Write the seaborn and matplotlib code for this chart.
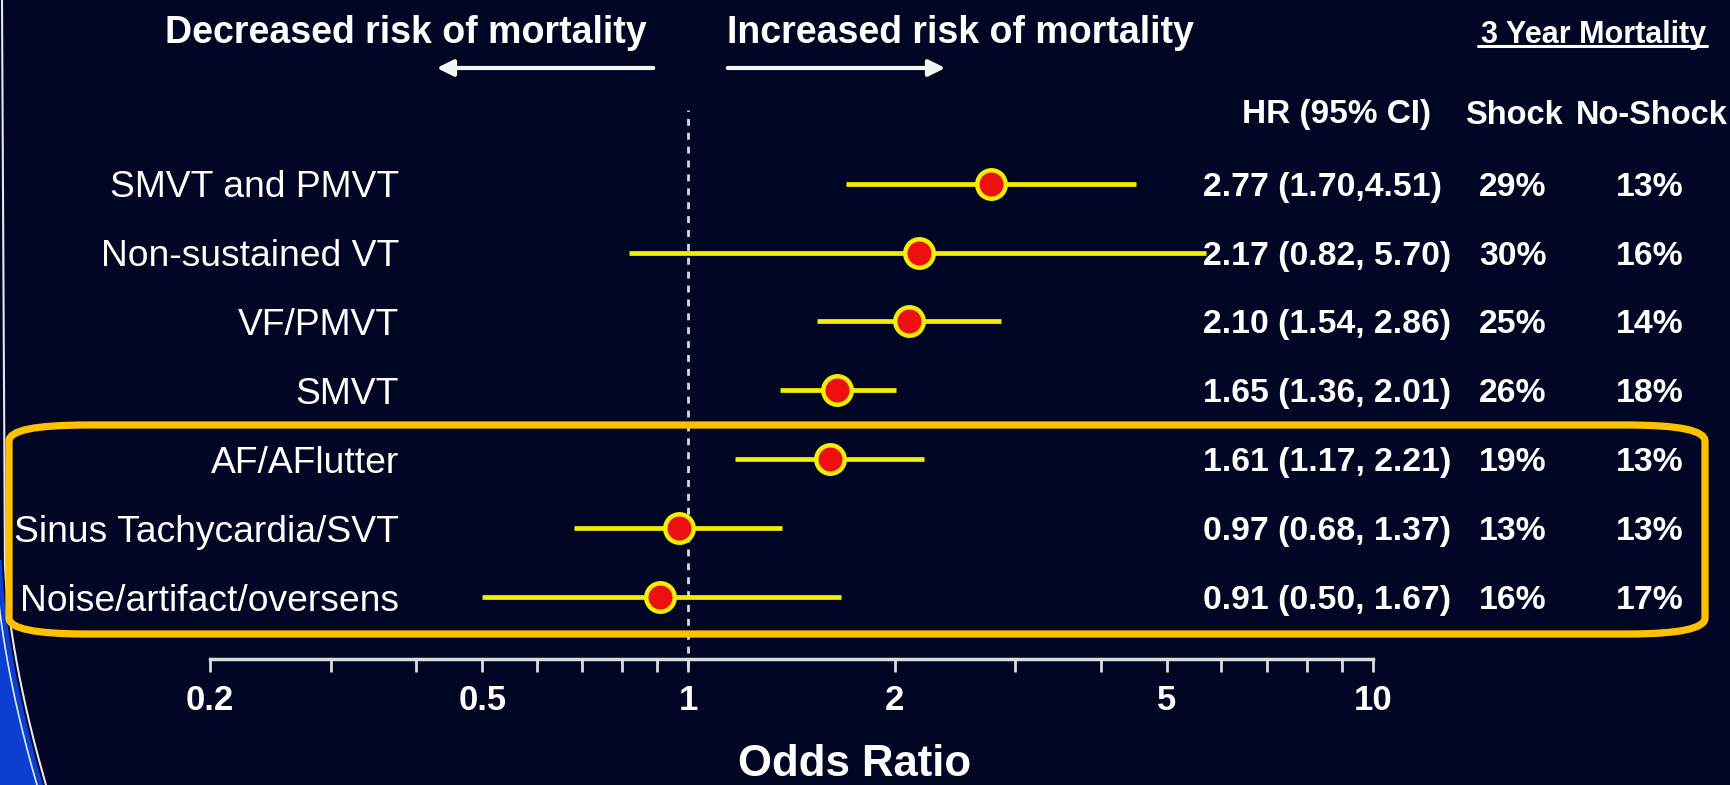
import numpy as np
import pandas as pd
import matplotlib
matplotlib.use("Agg")
import matplotlib.pyplot as plt
import matplotlib.transforms as mtransforms
from matplotlib.patches import FancyBboxPatch, Polygon, FancyArrowPatch
from matplotlib.lines import Line2D
from matplotlib.ticker import FixedLocator, NullFormatter
import seaborn as sns

# ---- data -------------------------------------------------------------
arrhythmias = ["SMVT and PMVT", "Non-sustained VT", "VF/PMVT", "SMVT",
               "AF/AFlutter", "Sinus Tachycardia/SVT", "Noise/artifact/oversens"]
hazard_ratio = [2.77, 2.17, 2.10, 1.65, 1.61, 0.97, 0.91]
ci_low = [1.70, 0.82, 1.54, 1.36, 1.17, 0.68, 0.50]
ci_high = [4.51, 5.70, 2.86, 2.01, 2.21, 1.37, 1.67]
hr_text = ["2.77 (1.70,4.51)", "2.17 (0.82, 5.70)", "2.10 (1.54, 2.86)",
           "1.65 (1.36, 2.01)", "1.61 (1.17, 2.21)", "0.97 (0.68, 1.37)",
           "0.91 (0.50, 1.67)"]
shock_mortality = ["29%", "30%", "25%", "26%", "19%", "13%", "16%"]
noshock_mortality = ["13%", "16%", "14%", "18%", "13%", "13%", "17%"]
major_ticks = [0.2, 0.5, 1, 2, 5, 10]
major_tick_labels = ["0.2", "0.5", "1", "2", "5", "10"]
minor_ticks = [0.3, 0.4, 0.6, 0.7, 0.8, 0.9, 3, 4, 6, 7, 8, 9]

df = pd.DataFrame({"label": arrhythmias, "hr": hazard_ratio,
                   "lo": ci_low, "hi": ci_high,
                   "row": np.arange(len(arrhythmias))})

# ---- style ------------------------------------------------------------
BG = "#000623"
WHITE = "#ffffff"
YELLOW = "#f2f000"
RED = "#ee1010"
GOLD = "#ffc000"

sns.set_theme(style="white")
plt.rcParams["font.family"] = ["Liberation Sans", "DejaVu Sans"]
NARROW = ["Liberation Sans Narrow", "Liberation Sans", "DejaVu Sans"]

W, H = 1730, 785
fig = plt.figure(figsize=(W / 100, H / 100), dpi=100, facecolor=BG)


def fx(px):
    return px / W


def fy(py):
    return 1 - py / H


# forest-plot axes: x = 0.2..10 on a log scale
ax_l, ax_r, ax_t, ax_b = 210, 1373, 110, 659
ax = fig.add_axes([fx(ax_l), fy(ax_b), fx(ax_r - ax_l), (ax_b - ax_t) / H])
ax.set_facecolor("none")
ax.set_xscale("log")
ax.set_xlim(0.2, 10)
ax.set_ylim(6.9, -1.07)

# reference line at HR = 1
ax.axvline(1, ymin=-0.015, ymax=1, color="#d8d8e0", lw=2, ls=(0, (2.5, 2.5)),
           clip_on=False, zorder=1)

# confidence intervals
ax.hlines(df["row"], df["lo"], df["hi"], color=YELLOW, lw=3.4, zorder=2)

# point estimates
sns.scatterplot(data=df, x="hr", y="row", ax=ax, s=420, color=RED,
                edgecolor=YELLOW, linewidth=3.2, zorder=3, legend=False)

# axis styling
for side in ["left", "right", "top"]:
    ax.spines[side].set_visible(False)
ax.spines["bottom"].set_color("#dcdcdc")
ax.spines["bottom"].set_linewidth(2.5)
ax.xaxis.set_major_locator(FixedLocator(major_ticks))
ax.xaxis.set_minor_locator(FixedLocator(minor_ticks))
ax.set_xticklabels(major_tick_labels)
ax.xaxis.set_minor_formatter(NullFormatter())
ax.tick_params(axis="x", which="both", direction="out", length=9, width=2,
               color="#dcdcdc", bottom=True)
ax.tick_params(axis="x", which="major", labelcolor=WHITE, labelsize=25, pad=9)
for t in ax.get_xticklabels():
    t.set_family(NARROW)
    t.set_fontweight("bold")
ax.set_yticks([])
ax.set_xlabel("")
ax.set_ylabel("")

# row labels and table columns
blend = mtransforms.blended_transform_factory(fig.transFigure, ax.transData)
cell = dict(transform=blend, va="center_baseline", color=WHITE)
for i, row in df.iterrows():
    ax.text(fx(399), row["row"], row["label"], ha="right", fontsize=26.8,
            **cell)
    ax.text(fx(1203), row["row"], hr_text[i], ha="left", fontsize=24.3,
            fontweight="bold", **cell)
    ax.text(fx(1513), row["row"], shock_mortality[i], ha="center",
            fontsize=24.3, fontweight="bold", **cell)
    ax.text(fx(1650), row["row"], noshock_mortality[i], ha="center",
            fontsize=24.3, fontweight="bold", **cell)

# headers
hdr = dict(color=WHITE, fontweight="bold", family=NARROW, ha="center",
           va="center")
fig.text(fx(406), fy(33), "Decreased risk of mortality", fontsize=27, **hdr)
fig.text(fx(960), fy(33), "Increased risk of mortality", fontsize=27, **hdr)
fig.text(fx(1337), fy(115), "HR (95% CI)", fontsize=24, **hdr)
fig.text(fx(1514), fy(115), "Shock", fontsize=23.5, **hdr)
fig.text(fx(1652), fy(115), "No-Shock", fontsize=23.5, **hdr)
fig.text(fx(1594), fy(35), "3 Year Mortality", fontsize=22, **hdr)
fig.add_artist(Line2D([fx(1478), fx(1707)], [fy(46), fy(46)], color=WHITE,
                      lw=2.2, transform=fig.transFigure))
fig.text(fx(855), fy(765), "Odds Ratio", fontsize=31.5, **hdr)

# direction arrows
arrow = dict(arrowstyle="-|>,head_length=0.7,head_width=0.35", color="#f4f4f4",
             lw=3)
fig.add_artist(FancyArrowPatch(
    (fx(656), fy(68)), (fx(434), fy(68)), transform=fig.transFigure,
    mutation_scale=14, **arrow))
fig.add_artist(FancyArrowPatch(
    (fx(725), fy(68)), (fx(948), fy(68)), transform=fig.transFigure,
    mutation_scale=14, **arrow))

# highlight box around the supraventricular / non-VT rows
fig.add_artist(FancyBboxPatch(
    (fx(9), fy(634)), fx(1696), (634 - 425) / H,
    boxstyle="round,pad=0,rounding_size=0.045", transform=fig.transFigure,
    facecolor="none", edgecolor=GOLD, lw=5.2, zorder=5,
    mutation_aspect=H / W))

# slide decoration on the left edge
yy = np.linspace(0, H, 200)
edge = 2 + 4 * (yy / H) + 40 * np.clip((yy - 560) / 225, 0, None) ** 1.6
fig.add_artist(Line2D(fx(edge), fy(yy), color="#e6e6f0", lw=1.5,
                      transform=fig.transFigure))
yb = np.linspace(560, H, 80)
inner = 2 + 4 * (yb / H) + 40 * np.clip((yb - 560) / 225, 0, None) ** 1.6
blue = Polygon(np.column_stack([np.r_[fx(inner) - fx(3), [0, 0]],
                                np.r_[fy(yb), [fy(H), fy(560)]]]),
               closed=True, facecolor="#0a3fd0", edgecolor="none",
               transform=fig.transFigure)
fig.add_artist(blue)
fig.add_artist(Line2D(fx(inner - 9), fy(yb), color="#e6e6f0", lw=1.2,
                      transform=fig.transFigure))

fig.savefig("out.png", dpi=100, facecolor=BG)
